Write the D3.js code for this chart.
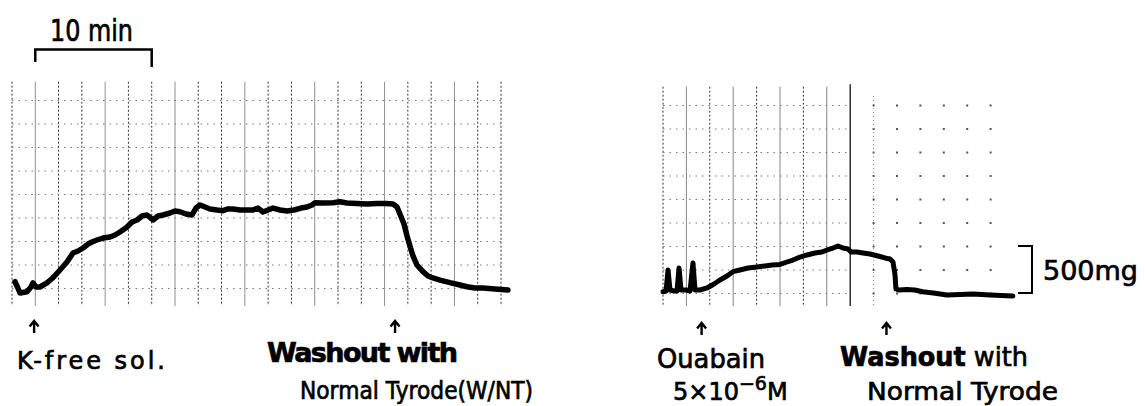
<!DOCTYPE html>
<html>
<head>
<meta charset="utf-8">
<script src="https://cdn.jsdelivr.net/npm/d3@7"></script>
<style>
  body { margin: 0; background: #fff; }
  svg { display: block; }
  text { font-family: "DejaVu Sans", sans-serif; fill: #000; stroke: #000; stroke-width: 0.7; }
</style>
</head>
<body>
<div class="canvas"></div>
<script>
// left record: K-free solution, time (min) / tension (mg)
const leftTime = [0.26, 0.43, 0.69, 1.29, 1.63, 1.8, 2.06, 2.4, 3.0, 3.5, 4.12, 4.72, 5.24, 5.67, 6.1, 6.53,
  6.87, 7.3, 7.82, 8.42, 8.85, 9.28, 9.88, 10.31, 10.74, 11.17, 11.6, 12.11, 12.54, 12.97, 13.57, 14.0,
  14.43, 14.94, 15.46, 15.8, 16.15, 16.58, 17.0, 17.61, 18.12, 18.55, 18.98, 19.58, 20.1, 20.7, 21.13,
  21.56, 21.99, 22.42, 23.02, 23.62, 24.22, 24.82, 25.34, 25.77, 26.03, 26.63, 27.57, 28.17, 28.77,
  29.63, 30.49, 31.35, 32.12, 32.72, 33.07, 33.32, 33.67, 33.93, 34.18, 34.44, 34.78, 35.3, 35.73,
  36.16, 36.76, 37.62, 38.48, 39.08, 39.77, 40.45, 41.48, 42.6];
const leftTension = [322, 277, 202, 216, 266, 309, 266, 266, 309, 362, 447, 532, 628, 649, 681, 723,
  745, 766, 787, 798, 819, 851, 904, 957, 979, 1021, 1032, 979, 1021, 1032, 1053, 1074,
  1067, 1043, 1032, 1106, 1138, 1117, 1096, 1085, 1078, 1096, 1096, 1085, 1085, 1085, 1106,
  1064, 1085, 1106, 1085, 1074, 1085, 1106, 1117, 1138, 1163, 1160, 1163, 1173, 1160,
  1154, 1149, 1154, 1154, 1149, 1117, 1043, 936, 809, 702, 596, 500, 429, 383,
  362, 340, 312, 287, 269, 255, 255, 245, 234];

// right record: ouabain, time (min) / tension (mg)
const rightTime = [0, 0.26, 0.43, 0.6, 0.94, 1.2, 1.37, 1.54, 1.97, 2.31, 2.56, 2.74, 3.16, 3.76, 4.36,
  4.87, 5.47, 5.98, 6.58, 7.26, 8.03, 8.72, 9.32, 10.0, 10.6, 11.11, 11.71, 12.31, 12.99, 13.59, 14.02,
  14.53, 14.96, 15.38, 15.81, 16.07, 16.58, 17.09, 17.69, 18.38, 18.97, 19.4, 19.66, 19.83, 19.91,
  20.17, 20.85, 21.5, 22.2, 23.1, 24.27, 25.38, 26.5, 27.95, 29.9];
const rightTension = [269, 277, 500, 287, 277, 277, 521, 287, 287, 277, 574, 287, 287, 309, 351,
  394, 436, 482, 500, 521, 532, 543, 553, 559, 585, 606, 638, 660, 681, 691, 713,
  734, 755, 734, 723, 691, 691, 681, 670, 649, 628, 617, 585, 447, 298,
  287, 293, 287, 269, 255, 234, 239, 245, 234, 223];

// drug application / washout marks (min)
const leftMarks = [1.9, 32.9];
const rightMarks = [3.3, 19.1];

const timeStep = 2;        // min per grid division
const tensionStep = 250;   // mg per grid division
const tensionBar = 500;    // mg
const timeBar = 10;        // min

const svg = d3.select('.canvas')
  .append('svg')
    .attr('width', 1145)
    .attr('height', 406);

// scales for the two chart-paper panels
const xL = d3.scaleLinear().domain([0, 42]).range([12, 501]);
const yL = d3.scaleLinear().domain([0, 2500]).range([312, 77]);
const xR = d3.scaleLinear().domain([0, 30]).range([663, 1014]);
const yR = d3.scaleLinear().domain([0, 2500]).range([317, 82]);

const rows = d3.range(tensionStep, 2500, tensionStep);

// left grid
const gridL = svg.append('g');
gridL.selectAll('line.v')
  .data(d3.range(0, 42 + 0.1, timeStep))
  .enter().append('line')
    .attr('x1', d => xL(d)).attr('x2', d => xL(d))
    .attr('y1', yL(2450)).attr('y2', yL(64))
    .attr('stroke', '#333')
    .attr('stroke-width', 1)
    .attr('stroke-dasharray', (d, i) => i % 3 === 1 ? null : '2,2')
    .attr('stroke-opacity', (d, i) => i % 3 === 1 ? 0.55 : 1);
gridL.selectAll('line.h')
  .data(rows)
  .enter().append('line')
    .attr('x1', xL(0)).attr('x2', xL(42))
    .attr('y1', d => yL(d)).attr('y2', d => yL(d))
    .attr('stroke', '#777')
    .attr('stroke-width', 1)
    .attr('stroke-dasharray', '1.5,5');

// right grid: ruled part, then dots only
const gridR = svg.append('g');
gridR.selectAll('line.v')
  .data(d3.range(0, 16 + 0.1, timeStep))
  .enter().append('line')
    .attr('x1', d => xR(d)).attr('x2', d => xR(d))
    .attr('y1', d => d === 16 ? yR(2475) : yR(2450)).attr('y2', yR(117))
    .attr('stroke', d => d === 16 ? '#111' : '#333')
    .attr('stroke-width', d => d === 16 ? 1.3 : 1)
    .attr('stroke-dasharray', (d, i) => d === 16 || i % 2 === 1 ? null : '2,2')
    .attr('stroke-opacity', (d, i) => d !== 16 && i % 2 === 1 ? 0.6 : 1);
gridR.selectAll('line.h')
  .data(rows)
  .enter().append('line')
    .attr('x1', xR(0)).attr('x2', xR(16))
    .attr('y1', d => yR(d)).attr('y2', d => yR(d))
    .attr('stroke', '#777')
    .attr('stroke-width', 1)
    .attr('stroke-dasharray', '1.5,5');
const dotCols = d3.range(18, 28 + 0.1, timeStep);
gridR.selectAll('rect.dot')
  .data(d3.cross(dotCols, rows))
  .enter().append('rect')
    .attr('x', d => xR(d[0]) - 1).attr('y', d => yR(d[1]) - 1)
    .attr('width', 2).attr('height', 2)
    .attr('fill', '#555');
gridR.selectAll('line.vd')
  .data([18])
  .enter().append('line')
    .attr('x1', d => xR(d)).attr('x2', d => xR(d))
    .attr('y1', yR(2350)).attr('y2', yR(117))
    .attr('stroke', '#777')
    .attr('stroke-dasharray', '1,3');

// traces
const lineL = d3.line().x(d => xL(d[0])).y(d => yL(d[1]));
const lineR = d3.line().x(d => xR(d[0])).y(d => yR(d[1]));

svg.append('path')
  .attr('d', lineL(d3.zip(leftTime, leftTension)))
  .attr('fill', 'none')
  .attr('stroke', '#000')
  .attr('stroke-width', 5.5)
  .attr('stroke-linejoin', 'round')
  .attr('stroke-linecap', 'round');

svg.append('path')
  .attr('d', lineR(d3.zip(rightTime, rightTension)))
  .attr('fill', 'none')
  .attr('stroke', '#000')
  .attr('stroke-width', 5)
  .attr('stroke-linejoin', 'round')
  .attr('stroke-linecap', 'round');

// 10 min time bar
svg.append('path')
  .attr('d', `M${xL(2)},62 V49.5 H${xL(2 + timeBar)} V67`)
  .attr('fill', 'none')
  .attr('stroke', '#000')
  .attr('stroke-width', 2.5);
svg.append('text')
  .attr('x', 50).attr('y', 41)
  .attr('font-size', 30)
  .attr('textLength', 83)
  .attr('lengthAdjust', 'spacingAndGlyphs')
  .text('10 min');

// 500 mg bracket
const barX = 1032;
svg.append('path')
  .attr('d', `M${barX - 14},${yR(255 + tensionBar)} H${barX} V${yR(255)} H${barX - 14}`)
  .attr('fill', 'none')
  .attr('stroke', '#000')
  .attr('stroke-width', 2);
svg.append('text')
  .attr('x', 1043).attr('y', 280)
  .attr('font-size', 27)
  .attr('textLength', 95)
  .attr('lengthAdjust', 'spacingAndGlyphs')
  .text('500mg');

// event arrows
const arrow = (x, y) => `M${x},${y + 12} V${y} M${x - 4.5},${y + 5.5} L${x},${y} L${x + 4.5},${y + 5.5}`;
svg.selectAll('path.arrL')
  .data(leftMarks)
  .enter().append('path')
    .attr('d', d => arrow(xL(d), 321))
    .attr('fill', 'none').attr('stroke', '#000').attr('stroke-width', 2.4);
svg.selectAll('path.arrR')
  .data(rightMarks)
  .enter().append('path')
    .attr('d', d => arrow(xR(d), 323))
    .attr('fill', 'none').attr('stroke', '#000').attr('stroke-width', 2.4);

// labels
const label = (x, y, size, len, str, weight, adjust) => svg.append('text')
  .attr('x', x).attr('y', y)
  .attr('font-size', size)
  .attr('font-weight', weight || 'normal')
  .attr('textLength', len)
  .attr('lengthAdjust', adjust || 'spacing')
  .text(str);

label(17, 369, 24, 148, 'K-free sol.');
label(267, 362, 27, 191, 'Washout with', 'bold');
label(300, 399, 24, 233, 'Normal Tyrode(W/NT)', 'normal', 'spacingAndGlyphs');
label(657, 368, 26, 108, 'Ouabain', 'normal', 'spacingAndGlyphs');

const conc = svg.append('text')
  .attr('x', 673).attr('y', 400)
  .attr('font-size', 24);
conc.append('tspan').text('5×10');
conc.append('tspan').attr('dy', -10).attr('font-size', 19).text('−6');
conc.append('tspan').attr('dy', 10).text('M');

const wash = svg.append('text')
  .attr('x', 840).attr('y', 366)
  .attr('font-size', 26)
  .attr('textLength', 188)
  .attr('lengthAdjust', 'spacingAndGlyphs');
wash.append('tspan').attr('font-weight', 'bold').text('Washout');
wash.append('tspan').text(' with');

label(867, 400, 25, 191, 'Normal Tyrode', 'normal', 'spacingAndGlyphs');
</script>
</body>
</html>
